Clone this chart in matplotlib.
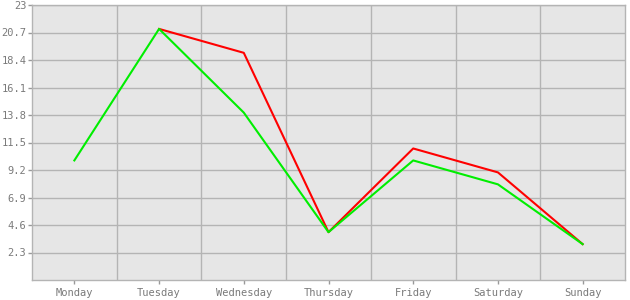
import matplotlib
matplotlib.use("Agg")
import matplotlib.pyplot as plt
import numpy as np

days = ["Monday", "Tuesday", "Wednesday", "Thursday", "Friday", "Saturday", "Sunday"]
red_values = [np.nan, 21, 19, 4, 11, 9, 3]
green_values = [10, 21, 14, 4, 10, 8, 3]
y_ticks = [2.3, 4.6, 6.9, 9.2, 11.5, 13.8, 16.1, 18.4, 20.7, 23]
y_tick_labels = ["2.3", "4.6", "6.9", "9.2", "11.5", "13.8", "16.1", "18.4", "20.7", "23"]

fig = plt.figure(figsize=(6.3, 3.0), dpi=100)
ax = fig.add_axes([32/630, 20/300, 593/630, 275/300])
ax.set_facecolor("#e6e6e6")
grid_c = "#b4b4b4"
x = np.arange(len(days))
ax.set_xlim(-0.5, len(days) - 0.5)
ax.set_ylim(0, 23)
for b in np.arange(0.5, len(days) - 0.5, 1):
    ax.axvline(b, color=grid_c, lw=1.0, zorder=1)
for t in y_ticks:
    ax.axhline(t, color=grid_c, lw=1.0, zorder=1)
for s in ax.spines.values():
    s.set_color(grid_c)
    s.set_linewidth(1.0)

ax.plot(x, red_values, color="#ff0000", lw=1.5, zorder=3)
ax.plot(x, green_values, color="#00ee00", lw=1.5, zorder=4)

ax.set_xticks(x)
ax.set_xticklabels(days)
ax.set_yticks(y_ticks)
ax.set_yticklabels(y_tick_labels)
ax.tick_params(axis="both", colors="#999999", labelcolor="#7a7a7a", labelsize=7.5, length=3, width=1)
for lab in ax.get_xticklabels() + ax.get_yticklabels():
    lab.set_fontfamily("DejaVu Sans Mono")
ax.tick_params(axis="x", pad=3)
ax.tick_params(axis="y", pad=1)

fig.savefig("out.png", dpi=100, facecolor="white")
